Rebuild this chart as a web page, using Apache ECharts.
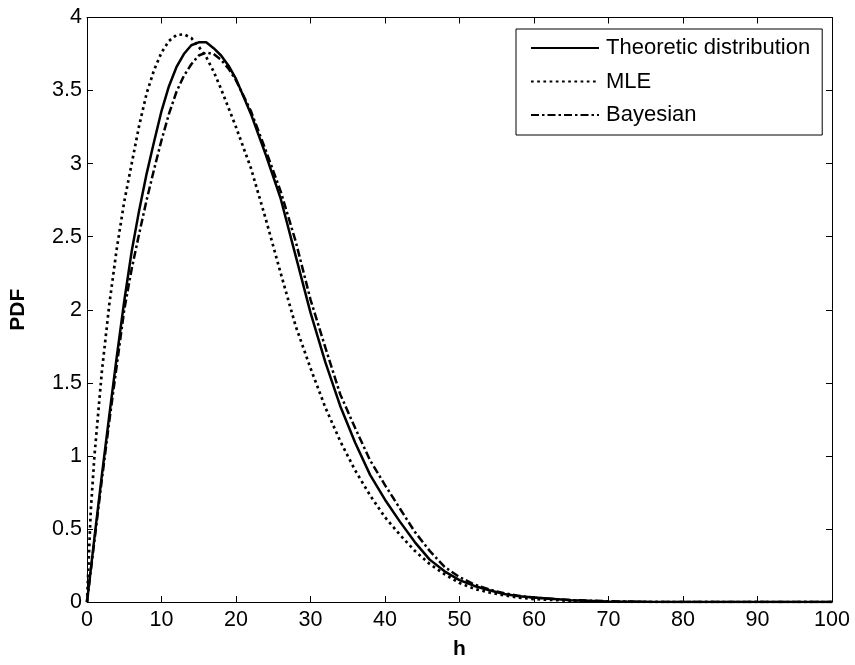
<!DOCTYPE html>
<html>
<head>
<meta charset="utf-8">
<script src="https://cdn.jsdelivr.net/npm/echarts@6/dist/echarts.min.js"></script>
<style>
html,body{margin:0;padding:0;background:#fff;}
#chart{width:855px;height:665px;}
</style>
</head>
<body>
<div id="chart"></div>
<script>
// h values (x axis)
const hValues = [0,0.5,1,2,3,4,5,6,7,8,9,10,11,12,13,14,15,16,17,18,19,20,22,24,26,28,30,32,34,36,38,40,42,44,46,48,50,52,54,56,58,60,65,70,75,80,90,100];
// Theoretic distribution
const theoretic = [0,0.22,0.44,0.87,1.28,1.68,2.06,2.40,2.68,2.93,3.15,3.36,3.53,3.66,3.75,3.81,3.83,3.83,3.79,3.74,3.67,3.58,3.34,3.06,2.76,2.37,1.98,1.64,1.34,1.09,0.87,0.70,0.55,0.41,0.29,0.21,0.15,0.11,0.08,0.055,0.04,0.03,0.012,0.004,0.001,0,0,0];
// MLE
const mle = [0,0.62,1.0,1.58,2.04,2.42,2.74,3.0,3.26,3.48,3.64,3.76,3.84,3.88,3.885,3.86,3.80,3.73,3.63,3.51,3.38,3.25,2.97,2.62,2.25,1.89,1.60,1.33,1.10,0.90,0.73,0.58,0.46,0.35,0.26,0.19,0.13,0.09,0.065,0.045,0.03,0.02,0.008,0.002,0,0,0,0];
// Bayesian
const bayesian = [0,0.21,0.42,0.84,1.24,1.62,2.0,2.28,2.52,2.75,2.96,3.16,3.34,3.49,3.60,3.68,3.74,3.76,3.75,3.71,3.65,3.57,3.36,3.09,2.81,2.47,2.07,1.74,1.42,1.19,0.97,0.80,0.64,0.48,0.35,0.24,0.17,0.12,0.085,0.06,0.042,0.03,0.013,0.005,0.001,0,0,0];
const seriesNames = ['Theoretic distribution','MLE','Bayesian'];
const xTickLabels = ['0','10','20','30','40','50','60','70','80','90','100'];
const yTickLabels = ['0','0.5','1','1.5','2','2.5','3','3.5','4'];

function pairs(ys){ return hValues.map((h,i)=>[h, ys[i]]); }

const FONT = 'Liberation Sans, Arial, Helvetica, sans-serif';
const chart = echarts.init(document.getElementById('chart'), null, {renderer:'canvas'});

const baseAxisLine = {show:true, onZero:false, lineStyle:{color:'#000', width:1}};
const tick = {show:true, inside:true, length:6, lineStyle:{color:'#000', width:1}};

chart.setOption({
  animation:false,
  backgroundColor:'#fff',
  grid:{left:86, top:17.5, right:23, bottom:60, containLabel:false},
  legend:{
    left:516, top:29, orient:'vertical',
    padding:[8,12,9,14],
    itemWidth:68, itemHeight:20, itemGap:11.5,
    backgroundColor:'#fff', borderColor:'#000', borderWidth:1, borderRadius:0,
    textStyle:{fontFamily:FONT, fontSize:22, color:'#000', padding:[0,0,0,2]},
    itemStyle:{opacity:0},
    data:seriesNames
  },
  xAxis:[{
    type:'value', min:0, max:100, interval:10, position:'bottom',
    name:'h', nameLocation:'middle', nameGap:37,
    nameTextStyle:{fontFamily:FONT, fontSize:21, fontWeight:'bold', color:'#000'},
    axisLine:baseAxisLine, axisTick:tick, splitLine:{show:false},
    axisLabel:{fontFamily:FONT, fontSize:21.5, color:'#000', margin:7,
      formatter:(v)=>xTickLabels[Math.round(v/10)]}
  },{
    type:'value', min:0, max:100, interval:10, position:'top',
    axisLine:baseAxisLine, axisTick:tick, splitLine:{show:false}, axisLabel:{show:false}
  }],
  yAxis:[{
    type:'value', min:0, max:4, interval:0.5, position:'left',
    name:'PDF', nameLocation:'middle', nameGap:58,
    nameTextStyle:{fontFamily:FONT, fontSize:21, fontWeight:'bold', color:'#000'},
    axisLine:baseAxisLine, axisTick:tick, splitLine:{show:false},
    axisLabel:{fontFamily:FONT, fontSize:21.5, color:'#000', margin:5,
      formatter:(v)=>yTickLabels[Math.round(v*2)]}
  },{
    type:'value', min:0, max:4, interval:0.5, position:'right',
    axisLine:baseAxisLine, axisTick:tick, splitLine:{show:false}, axisLabel:{show:false}
  }],
  series:[
    {name:seriesNames[0], type:'line', data:pairs(theoretic), symbol:'none', showSymbol:false,
      lineStyle:{color:'#000', width:2.5, type:'solid'}, itemStyle:{color:'#000'}},
    {name:seriesNames[1], type:'line', data:pairs(mle), symbol:'none', showSymbol:false,
      lineStyle:{color:'#000', width:2.7, type:[2.7,3.5]}, itemStyle:{color:'#000'}},
    {name:seriesNames[2], type:'line', data:pairs(bayesian), symbol:'none', showSymbol:false,
      lineStyle:{color:'#000', width:2.5, type:[8,3,2.5,3]}, itemStyle:{color:'#000'}}
  ]
});
</script>
</body>
</html>
